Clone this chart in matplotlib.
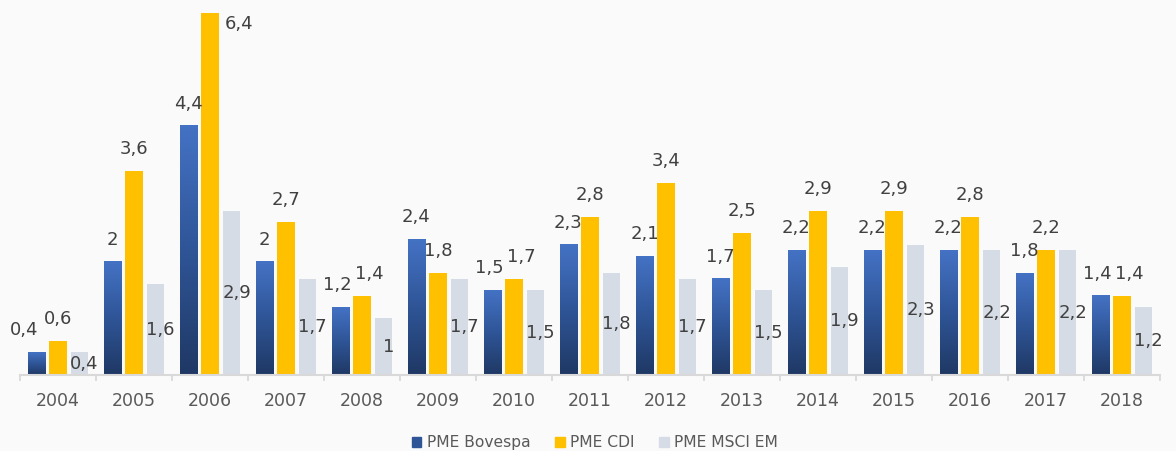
import numpy as np
import matplotlib
matplotlib.use('Agg')
import matplotlib.pyplot as plt
from matplotlib.colors import LinearSegmentedColormap
from matplotlib.patches import Patch

plt.rcParams['font.family'] = ['DejaVu Sans']

# data
years = ['2004', '2005', '2006', '2007', '2008', '2009', '2010', '2011',
         '2012', '2013', '2014', '2015', '2016', '2017', '2018']
bovespa = [0.4, 2.0, 4.4, 2.0, 1.2, 2.4, 1.5, 2.3, 2.1, 1.7, 2.2, 2.2, 2.2, 1.8, 1.4]
cdi     = [0.6, 3.6, 6.4, 2.7, 1.4, 1.8, 1.7, 2.8, 3.4, 2.5, 2.9, 2.9, 2.8, 2.2, 1.4]
msci    = [0.4, 1.6, 2.9, 1.7, 1.0, 1.7, 1.5, 1.8, 1.7, 1.5, 1.9, 2.3, 2.2, 2.2, 1.2]
seriesNames = ['PME Bovespa', 'PME CDI', 'PME MSCI EM']

BG = '#FAFAFA'
YELLOW = '#FFC000'
GREY = '#D6DCE5'
TXT = '#404040'
blueMap = LinearSegmentedColormap.from_list('bov', ['#1F3864', '#2F5597', '#4472C4'])


def fmt(v):
    s = ('%.1f' % v).rstrip('0').rstrip('.')
    return s.replace('.', ',')


fig = plt.figure(figsize=(11.76, 4.51), dpi=100, facecolor=BG)
ax = fig.add_axes([20 / 1176, 76 / 451, 1140 / 1176, 375 / 451])
ax.set_facecolor(BG)

x = np.arange(len(years))
step = 0.283
width = 0.23
ymax = 6.625
grad = np.linspace(0, 1, 256).reshape(-1, 1)

# blue bars with a vertical gradient per bar
for xi, v in zip(x - step, bovespa):
    ax.imshow(grad, extent=[xi - width / 2, xi + width / 2, 0, v], origin='lower',
              aspect='auto', cmap=blueMap, zorder=2, interpolation='bicubic')
ax.bar(x, cdi, width, color=YELLOW, zorder=2)
ax.bar(x + step, msci, width, color=GREY, zorder=2)

labelSize = 13
for i in range(len(years)):
    b, c, m = bovespa[i], cdi[i], msci[i]
    # labels of neighbouring bars at about the same height get pushed apart
    clash = abs(b - c) < 0.3
    bShift = -3 if clash else 0
    cShift = 7 if clash else 0
    if i == 0:
        bShift, cShift = -12, 0
    ax.annotate(fmt(b), (x[i] - step, b), xytext=(bShift, 22), textcoords='offset pixels',
                ha='center', va='center', fontsize=labelSize, color=TXT)
    if c == max(cdi):
        # no room above the tallest bar, put it beside
        ax.annotate(fmt(c), (x[i], c), xytext=(29, -11), textcoords='offset pixels',
                    ha='center', va='center', fontsize=labelSize, color=TXT)
    else:
        ax.annotate(fmt(c), (x[i], c), xytext=(cShift, 22), textcoords='offset pixels',
                    ha='center', va='center', fontsize=labelSize, color=TXT)
    ax.annotate(fmt(m), (x[i] + step, m / 2), xytext=(5, 0), textcoords='offset pixels',
                ha='center', va='center', fontsize=labelSize, color=TXT)

ax.set_xlim(-0.5, len(years) - 0.5)
ax.set_ylim(0, ymax)
ax.set_yticks([])
ax.set_xticks(x)
ax.set_xticklabels(years, fontsize=12.5, color='#595959')
ax.set_xticks(np.arange(len(years) + 1) - 0.5, minor=True)
ax.tick_params(axis='x', which='major', length=0, pad=12)
ax.tick_params(axis='x', which='minor', length=4.5, width=1.3, color='#D9D9D9')
for side in ['top', 'right', 'left']:
    ax.spines[side].set_visible(False)
ax.spines['bottom'].set_color('#D9D9D9')
ax.spines['bottom'].set_linewidth(1.5)
ax.spines['bottom'].set_zorder(3)

handles = [Patch(color='#2F5597'), Patch(color=YELLOW), Patch(color=GREY)]
fig.legend(handles, seriesNames, loc='center', bbox_to_anchor=(0.506, 0.018),
           ncol=3, frameon=False, fontsize=11.2, handlelength=0.6, handleheight=0.6,
           handletextpad=0.35, columnspacing=1.6, labelcolor='#595959')

fig.savefig('out.png', dpi=100, facecolor=BG)
